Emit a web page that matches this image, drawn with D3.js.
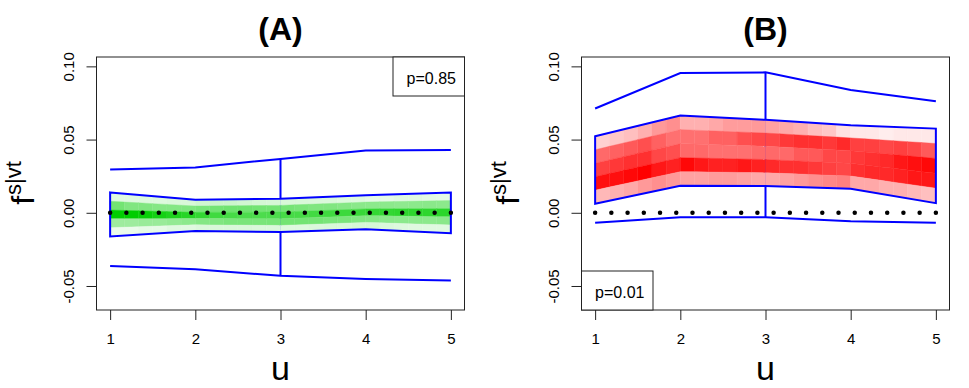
<!DOCTYPE html>
<html>
<head>
<meta charset="utf-8">
<script src="https://cdn.jsdelivr.net/npm/d3@7"></script>
<style>
  body { margin: 0; background: #fff; }
  text { font-family: "Liberation Sans", Arial, sans-serif; }
</style>
</head>
<body>
<svg id="chart" width="969" height="388"></svg>
<script>
// ---- data ----
var uTicks = [1, 2, 3, 4, 5]
var yTicks = [-0.05, 0, 0.05, 0.10]
var panelTitles = ["(A)", "(B)"]
var pLabels = ["p=0.85", "p=0.01"]

// panel A (green)
var outerUpA = [0.0295, 0.0310, 0.0368, 0.0425, 0.0428]
var boxUpA = [0.0139, 0.0089, 0.0096, 0.0119, 0.0139]
var boxLoA = [-0.0162, -0.0125, -0.0132, -0.0112, -0.0139]
var outerLoA = [-0.0363, -0.0386, -0.0430, -0.0452, -0.0463]
// shading intensity per cell, 5 rows (top to bottom) x 24 columns
var shadeA = [
  [0.12, 0.12, 0.13, 0.13, 0.14, 0.15, 0.18, 0.20, 0.20, 0.18, 0.17, 0.16, 0.15, 0.15, 0.14, 0.14, 0.13, 0.12, 0.10, 0.10, 0.12, 0.12, 0.11, 0.10],
  [0.55, 0.50, 0.50, 0.48, 0.48, 0.50, 0.52, 0.55, 0.56, 0.56, 0.55, 0.55, 0.54, 0.52, 0.50, 0.50, 0.48, 0.46, 0.45, 0.45, 0.44, 0.45, 0.46, 0.45],
  [1.00, 1.00, 0.97, 0.92, 0.88, 0.85, 0.80, 0.75, 0.72, 0.70, 0.70, 0.70, 0.72, 0.72, 0.74, 0.75, 0.76, 0.78, 0.80, 0.80, 0.82, 0.82, 0.82, 0.83],
  [0.38, 0.38, 0.40, 0.40, 0.42, 0.45, 0.48, 0.50, 0.52, 0.52, 0.52, 0.53, 0.55, 0.55, 0.55, 0.53, 0.52, 0.50, 0.48, 0.46, 0.45, 0.45, 0.45, 0.46],
  [0.08, 0.08, 0.10, 0.10, 0.12, 0.12, 0.14, 0.15, 0.15, 0.15, 0.14, 0.14, 0.13, 0.13, 0.14, 0.15, 0.15, 0.16, 0.16, 0.14, 0.13, 0.12, 0.12, 0.12]
]

// panel B (red)
var outerUpB = [0.0712, 0.0954, 0.0959, 0.0838, 0.0762]
var boxUpB = [0.0523, 0.0664, 0.0635, 0.0598, 0.0575]
var boxLoB = [0.0062, 0.0185, 0.0183, 0.0164, 0.0066]
var outerLoB = [-0.0068, -0.0030, -0.0030, -0.0057, -0.0068]
var shadeB = [
  [0.18, 0.22, 0.25, 0.31, 0.40, 0.44, 0.31, 0.31, 0.34, 0.39, 0.39, 0.40, 0.37, 0.34, 0.31, 0.25, 0.22, 0.12, 0.09, 0.09, 0.07, 0.09, 0.09, 0.09],
  [0.59, 0.62, 0.65, 0.69, 0.62, 0.56, 0.56, 0.56, 0.62, 0.62, 0.69, 0.72, 0.72, 0.78, 0.81, 0.81, 0.78, 0.84, 0.75, 0.75, 0.72, 0.75, 0.72, 0.65],
  [0.75, 0.78, 0.81, 0.81, 0.72, 0.69, 0.59, 0.59, 0.56, 0.56, 0.56, 0.59, 0.59, 0.59, 0.65, 0.65, 0.72, 0.72, 0.78, 0.81, 0.84, 0.91, 0.94, 0.97],
  [0.94, 0.94, 0.97, 1.00, 0.91, 0.87, 0.97, 0.91, 0.87, 0.87, 0.91, 0.87, 0.84, 0.81, 0.81, 0.78, 0.75, 0.72, 0.81, 0.84, 0.84, 0.87, 0.91, 0.91],
  [0.28, 0.31, 0.34, 0.40, 0.44, 0.40, 0.37, 0.37, 0.39, 0.39, 0.37, 0.34, 0.34, 0.37, 0.40, 0.44, 0.47, 0.50, 0.34, 0.34, 0.31, 0.31, 0.28, 0.25]
]

var svg = d3.select("#chart")

var panels = [
  { left: 96.5, title: panelTitles[0], p: pLabels[0], legend: "topright", color: "#00cd00",
    outerUp: outerUpA, boxUp: boxUpA, boxLo: boxLoA, outerLo: outerLoA, shade: shadeA },
  { left: 581.5, title: panelTitles[1], p: pLabels[1], legend: "bottomleft", color: "#ff0000",
    outerUp: outerUpB, boxUp: boxUpB, boxLo: boxLoB, outerLo: outerLoB, shade: shadeB }
]

var plotW = 368, plotTop = 57, plotBottom = 310

panels.forEach(function (pn) {
  var x = d3.scaleLinear().domain([0.84, 5.16]).range([pn.left, pn.left + plotW])
  var y = d3.scaleLinear().domain([-0.0664, 0.1064]).range([plotBottom, plotTop])
  var g = svg.append("g")

  // piecewise-linear curves through the 5 points
  var up = d3.scaleLinear().domain(uTicks).range(pn.boxUp)
  var lo = d3.scaleLinear().domain(uTicks).range(pn.boxLo)
  var line = d3.line().x((d, i) => x(uTicks[i])).y(d => y(d))

  // whisker at u=3 (under the shading)
  g.append("line")
    .attr("x1", x(3)).attr("x2", x(3))
    .attr("y1", y(pn.outerUp[2])).attr("y2", y(pn.outerLo[2]))
    .attr("stroke", "#0000ff").attr("stroke-width", 2)

  // shaded cells: 6 columns per unit, 5 rows across the central band
  var nRows = pn.shade.length, nCols = pn.shade[0].length
  var color = d3.interpolateRgb("#ffffff", pn.color)
  var cells = []
  pn.shade.forEach(function (row, r) {
    row.forEach(function (v, c) {
      cells.push({ r: r, c: c, v: v })
    })
  })
  g.append("g").selectAll("path.cell")
    .data(cells)
    .enter().append("path")
    .attr("class", "cell")
    .attr("d", function (d) {
      var u0 = 1 + d.c * 4 / nCols, u1 = 1 + (d.c + 1) * 4 / nCols
      function at(u, k) { return up(u) - (up(u) - lo(u)) * k / nRows }
      return "M" + x(u0) + "," + y(at(u0, d.r)) +
        "L" + x(u1) + "," + y(at(u1, d.r)) +
        "L" + x(u1) + "," + y(at(u1, d.r + 1)) +
        "L" + x(u0) + "," + y(at(u0, d.r + 1)) + "Z"
    })
    .attr("fill", d => color(d.v))
    .attr("stroke", d => color(d.v))
    .attr("stroke-width", 0.4)

  // box outline
  g.append("path")
    .attr("d", "M" + pn.boxUp.map((d, i) => x(uTicks[i]) + "," + y(d)).join("L") +
      "L" + pn.boxLo.map((d, i) => [x(uTicks[i]), y(d)]).reverse().map(p => p.join(",")).join("L") + "Z")
    .attr("fill", "none").attr("stroke", "#0000ff").attr("stroke-width", 2)

  // outer envelope
  ;[pn.outerUp, pn.outerLo].forEach(function (s) {
    g.append("path").datum(s).attr("d", line)
      .attr("fill", "none").attr("stroke", "#0000ff").attr("stroke-width", 2)
  })

  // dotted zero line (22 dots from u=1 to u=5)
  var span = x(5) - x(1)
  g.append("line")
    .attr("x1", x(1)).attr("x2", x(5) + 1).attr("y1", y(0)).attr("y2", y(0))
    .attr("stroke", "#000").attr("stroke-width", 4.5)
    .attr("stroke-linecap", "round")
    .attr("stroke-dasharray", "0 " + span / 21)

  // frame
  g.append("rect")
    .attr("x", x.range()[0]).attr("y", plotTop)
    .attr("width", plotW).attr("height", plotBottom - plotTop)
    .attr("fill", "none").attr("stroke", "#222").attr("stroke-width", 1)

  // axes
  var xAxis = g.append("g")
    .attr("transform", "translate(0," + plotBottom + ")")
    .call(d3.axisBottom(x).tickValues(uTicks).tickSize(10).tickPadding(13).tickFormat(d3.format("d")))
  var yAxis = g.append("g")
    .attr("transform", "translate(" + pn.left + ",0)")
    .call(d3.axisLeft(y).tickValues(yTicks).tickSize(10).tickFormat(d => d.toFixed(2)))
  ;[xAxis, yAxis].forEach(function (a) {
    a.select(".domain").remove()
    a.selectAll("text").style("font-size", "15px").attr("fill", "#000")
    a.selectAll("line").attr("stroke", "#222")
  })
  yAxis.selectAll("text")
    .attr("transform", "rotate(-90)")
    .attr("x", 0).attr("y", -23).attr("dy", 0)
    .attr("text-anchor", "middle")

  // title and axis labels
  var cx = pn.left + plotW / 2
  g.append("text").text(pn.title)
    .attr("x", cx).attr("y", 40)
    .attr("text-anchor", "middle")
    .style("font-size", "32px").style("font-weight", "bold")
  g.append("text").text("u")
    .attr("x", cx).attr("y", 380)
    .attr("text-anchor", "middle")
    .style("font-size", "34px")
  var yl = g.append("text")
    .attr("transform", "translate(" + (pn.left - 63) + ",183) rotate(-90)")
    .attr("text-anchor", "middle")
  yl.append("tspan").text("f").style("font-size", "32px")
  yl.append("tspan").text("s|vt").style("font-size", "22px").attr("dy", -13).attr("dx", 1)

  // p-value legend box
  var lw = 71.5, lh = 39
  var lx = pn.legend == "topright" ? pn.left + plotW - lw : pn.left
  var ly = pn.legend == "topright" ? plotTop : plotBottom - lh
  g.append("rect")
    .attr("x", lx).attr("y", ly).attr("width", lw).attr("height", lh)
    .attr("fill", "#fff").attr("stroke", "#222").attr("stroke-width", 1)
  g.append("text").text(pn.p)
    .attr("x", lx + lw / 2 + 2.5).attr("y", ly + 27)
    .attr("text-anchor", "middle")
    .style("font-size", "16px")
})
</script>
</body>
</html>
